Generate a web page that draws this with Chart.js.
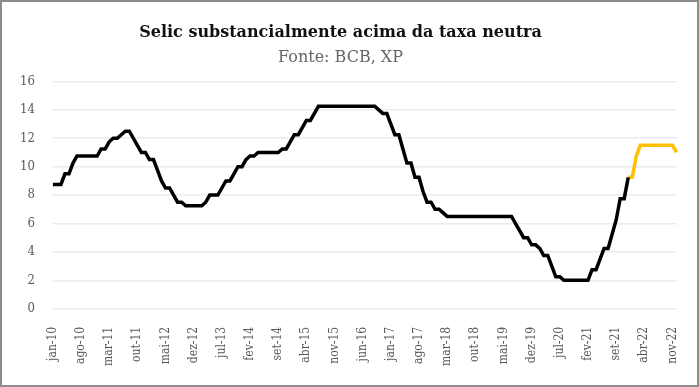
<!DOCTYPE html>
<html lang="pt">
<head>
<meta charset="UTF-8">
<title>Selic</title>
<script src="https://cdn.jsdelivr.net/npm/chart.js"></script>
<style>
  body { margin: 0; background: #fff; }
  #frame { width: 699px; height: 387px; box-sizing: border-box; border: 2px solid #8c8c8c; background: #fff; }
  canvas { display: block; }
</style>
</head>
<body>
<div id="frame"><canvas id="selicChart" width="695" height="383"></canvas></div>
<script>
  // category labels: monthly jan-10 .. dez-22
  var monthNames = ['jan', 'fev', 'mar', 'abr', 'mai', 'jun', 'jul', 'ago', 'set', 'out', 'nov', 'dez'];
  var years = ['10', '11', '12', '13', '14', '15', '16', '17', '18', '19', '20', '21', '22'];
  var months = [];
  years.forEach(function (y) {
    monthNames.forEach(function (m) { months.push(m + '-' + y); });
  });

  // Selic realizada (jan-10 .. dez-21)
  var selicHist = [
    8.75, 8.75, 8.75, 9.5, 9.5, 10.25, 10.75, 10.75, 10.75, 10.75, 10.75, 10.75,
    11.25, 11.25, 11.75, 12, 12, 12.25, 12.5, 12.5, 12, 11.5, 11, 11,
    10.5, 10.5, 9.75, 9, 8.5, 8.5, 8, 7.5, 7.5, 7.25, 7.25, 7.25,
    7.25, 7.25, 7.5, 8, 8, 8, 8.5, 9, 9, 9.5, 10, 10,
    10.5, 10.75, 10.75, 11, 11, 11, 11, 11, 11, 11.25, 11.25, 11.75,
    12.25, 12.25, 12.75, 13.25, 13.25, 13.75, 14.25, 14.25, 14.25, 14.25, 14.25, 14.25,
    14.25, 14.25, 14.25, 14.25, 14.25, 14.25, 14.25, 14.25, 14.25, 14, 13.75, 13.75,
    13, 12.25, 12.25, 11.25, 10.25, 10.25, 9.25, 9.25, 8.25, 7.5, 7.5, 7,
    7, 6.75, 6.5, 6.5, 6.5, 6.5, 6.5, 6.5, 6.5, 6.5, 6.5, 6.5,
    6.5, 6.5, 6.5, 6.5, 6.5, 6.5, 6.5, 6, 5.5, 5, 5, 4.5,
    4.5, 4.25, 3.75, 3.75, 3, 2.25, 2.25, 2, 2, 2, 2, 2,
    2, 2, 2.75, 2.75, 3.5, 4.25, 4.25, 5.25, 6.25, 7.75, 7.75, 9.25
  ];

  // projeção XP (dez-21 .. dez-22)
  var selicProj = [9.25, 9.25, 10.75, 11.5, 11.5, 11.5, 11.5, 11.5, 11.5, 11.5, 11.5, 11.5, 11];

  var yTicks = [0, 2, 4, 6, 8, 10, 12, 14, 16];

  var histData = months.map(function (m, i) { return i < selicHist.length ? selicHist[i] : null; });
  var projStart = selicHist.length - 1;
  var projData = months.map(function (m, i) {
    return i >= projStart && i - projStart < selicProj.length ? selicProj[i - projStart] : null;
  });

  var serif = "'DejaVu Serif', serif";
  var serifNarrow = "'DejaVu Serif Condensed', 'DejaVu Serif', serif";

  var ctx = document.getElementById('selicChart').getContext('2d');
  var selicChart = new Chart(ctx, {
    type: 'line',
    data: {
      labels: months,
      datasets: [{
        label: 'Selic',
        data: histData,
        borderColor: '#000000',
        borderWidth: 3.5,
        pointRadius: 0,
        tension: 0,
        fill: false
      }, {
        label: 'Projeção',
        data: projData,
        borderColor: '#FFC000',
        borderWidth: 3.5,
        pointRadius: 0,
        tension: 0,
        fill: false
      }]
    },
    options: {
      responsive: false,
      animation: false,
      layout: { padding: { left: 0, right: 18, top: 0, bottom: 9 } },
      plugins: {
        legend: { display: false },
        tooltip: { enabled: false },
        title: {
          display: true,
          text: 'Selic substancialmente acima da taxa neutra',
          color: '#111111',
          font: { family: serif, size: 16, weight: 'bold' },
          padding: { top: 21, bottom: 6 }
        },
        subtitle: {
          display: true,
          text: 'Fonte: BCB, XP',
          color: '#666666',
          font: { family: serif, size: 16, weight: 'normal' },
          padding: { top: 0, bottom: 14 }
        }
      },
      scales: {
        x: {
          offset: false,
          grid: { display: false },
          border: { display: false },
          ticks: {
            autoSkip: false,
            maxRotation: 90,
            minRotation: 90,
            color: '#595959',
            font: { family: serifNarrow, size: 12 },
            padding: 10,
            callback: function (value, index) {
              return index % 7 === 0 ? months[index] : null;
            }
          }
        },
        y: {
          min: yTicks[0],
          max: yTicks[yTicks.length - 1],
          afterBuildTicks: function (axis) {
            axis.ticks = yTicks.map(function (v) { return { value: v }; });
          },
          grid: { color: '#ececec', lineWidth: 1.5, drawTicks: false },
          border: { display: false },
          ticks: {
            color: '#595959',
            font: { family: serifNarrow, size: 13 },
            padding: 18
          }
        }
      }
    }
  });
</script>
</body>
</html>
